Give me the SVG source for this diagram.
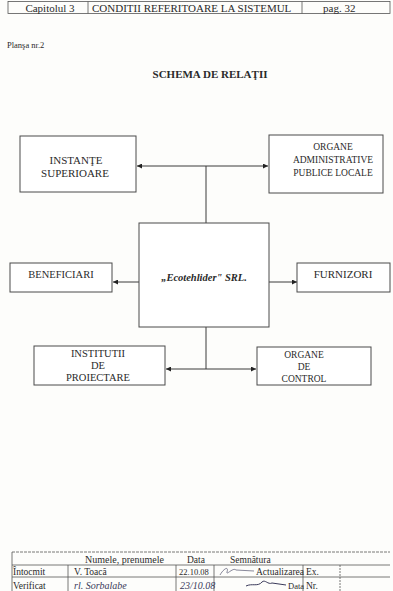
<svg xmlns="http://www.w3.org/2000/svg" width="393" height="591" viewBox="0 0 393 591">
<style>
.bg{fill:#fdfdfb}
.box{fill:#ffffff;stroke:#4a4a4a;stroke-width:1}
.t{font-family:"Liberation Serif","Times New Roman",serif;fill:#2a2a2a}
.lbl{text-anchor:middle}
.ln{stroke:#3a3a3a;stroke-width:1;fill:none}
.tab{stroke:#555;stroke-width:0.8;fill:none}
.hw{font-family:"Liberation Serif",serif;font-style:italic;fill:#3a3a5a}
</style>
<defs>
<marker id="ah" viewBox="0 0 8 8" refX="8" refY="4" markerWidth="5" markerHeight="5" orient="auto-start-reverse" markerUnits="userSpaceOnUse">
<path d="M0,0 L8,4 L0,8 z" fill="#222"/>
</marker>
</defs>
<rect class="bg" x="0" y="0" width="393" height="591"/>

<g id="header">
<rect class="tab" x="8" y="1.5" width="382" height="12"/>
<line class="tab" x1="88" y1="1.5" x2="88" y2="13.5"/>
<line class="tab" x1="302" y1="1.5" x2="302" y2="13.5"/>
<text class="t" x="50" y="11.5" font-size="11" text-anchor="middle">Capitolul 3</text>
<text class="t" x="92" y="11.5" font-size="11">CONDITII REFERITOARE LA SISTEMUL</text>
<text class="t" x="323" y="11.5" font-size="11">pag. 32</text>
</g>

<text class="t" x="7" y="48" font-size="8.5">Planşa nr.2</text>
<text class="t" x="210" y="78" font-size="11" font-weight="bold" text-anchor="middle">SCHEMA DE RELAŢII</text>

<g id="connectors">
<line class="ln" x1="206" y1="166" x2="206" y2="223"/>
<line class="ln" x1="137" y1="166" x2="268" y2="166" marker-start="url(#ah)" marker-end="url(#ah)"/>
<line class="ln" x1="139" y1="282" x2="113" y2="282" marker-end="url(#ah)"/>
<line class="ln" x1="269" y1="282" x2="297" y2="282" marker-end="url(#ah)"/>
<line class="ln" x1="206" y1="327" x2="206" y2="369"/>
<line class="ln" x1="166" y1="369" x2="256" y2="369" marker-start="url(#ah)" marker-end="url(#ah)"/>
</g>

<g id="instante">
<rect class="box" x="20" y="136" width="116" height="56"/>
<text class="t lbl" x="76" y="164" font-size="11">INSTANŢE</text>
<text class="t lbl" x="75" y="177" font-size="11">SUPERIOARE</text>
</g>

<g id="organe-admin">
<rect class="box" x="269" y="135" width="114" height="58"/>
<text class="t lbl" x="333" y="150" font-size="9.5">ORGANE</text>
<text class="t lbl" x="333" y="163" font-size="9.5">ADMINISTRATIVE</text>
<text class="t lbl" x="333" y="176" font-size="9.5">PUBLICE LOCALE</text>
</g>

<g id="central">
<rect class="box" x="139" y="223" width="130" height="104"/>
<text class="t" x="204" y="281" font-size="10.5" font-weight="bold" font-style="italic" text-anchor="middle">„Ecotehlider" SRL.</text>
</g>

<g id="beneficiari">
<rect class="box" x="10" y="263" width="102" height="29"/>
<text class="t lbl" x="61" y="278" font-size="10.5">BENEFICIARI</text>
</g>

<g id="furnizori">
<rect class="box" x="297" y="263" width="93" height="29"/>
<text class="t lbl" x="343" y="278" font-size="11">FURNIZORI</text>
</g>

<g id="institutii">
<rect class="box" x="34" y="346" width="131" height="39"/>
<text class="t lbl" x="98" y="357" font-size="10.5">INSTITUTII</text>
<text class="t lbl" x="98" y="369" font-size="10.5">DE</text>
<text class="t lbl" x="98" y="381" font-size="10.5">PROIECTARE</text>
</g>

<g id="organe-control">
<rect class="box" x="257" y="347" width="114" height="38"/>
<text class="t lbl" x="304" y="358" font-size="9.5">ORGANE</text>
<text class="t lbl" x="304" y="370" font-size="9.5">DE</text>
<text class="t lbl" x="304" y="382" font-size="9.5">CONTROL</text>
</g>

<g id="footer">
<line class="tab" x1="12" y1="552" x2="390" y2="552" stroke-dasharray="3 1"/>
<line class="tab" x1="12" y1="565" x2="390" y2="565"/>
<line class="tab" x1="12" y1="577" x2="390" y2="577"/>
<line class="tab" x1="12" y1="552" x2="12" y2="591"/>
<line class="tab" x1="68" y1="565" x2="68" y2="591"/>
<line class="tab" x1="176" y1="565" x2="176" y2="591"/>
<line class="tab" x1="214" y1="565" x2="214" y2="591"/>
<line class="tab" x1="303" y1="565" x2="303" y2="591"/>
<line class="tab" x1="340" y1="565" x2="340" y2="591" stroke-dasharray="2 1"/>
<text class="t" x="85" y="563" font-size="10">Numele, prenumele</text>
<text class="t" x="187" y="563" font-size="9.5">Data</text>
<text class="t" x="230" y="563" font-size="9.5">Semnătura</text>
<text class="t" x="13" y="575" font-size="9.5">Întocmit</text>
<text class="t" x="74" y="575" font-size="9.5">V. Toacă</text>
<text class="t" x="179" y="575" font-size="8.5">22.10.08</text>
<path d="M220,575 C224,568 229,566 227,572 C226,576 233,567 236,570 L254,571" stroke="#6a6a80" stroke-width="0.8" fill="none"/>
<text class="t" x="256" y="575" font-size="9.5">Actualizarea</text>
<text class="t" x="306" y="575" font-size="9.5">Ex.</text>
<text class="t" x="13" y="589" font-size="9.5">Verificat</text>
<text class="hw" x="74" y="589" font-size="10">rl. Sorbalabe</text>
<text class="hw" x="180" y="589" font-size="10">23/10.08</text>
<path d="M246,586 C252,583 258,587 262,582 C265,579 268,585 272,583 L286,585" stroke="#3a3a5a" stroke-width="1" fill="none"/>
<text class="t" x="288" y="589" font-size="8.5">Data</text>
<text class="t" x="306" y="589" font-size="9.5">Nr.</text>
</g>
</svg>
